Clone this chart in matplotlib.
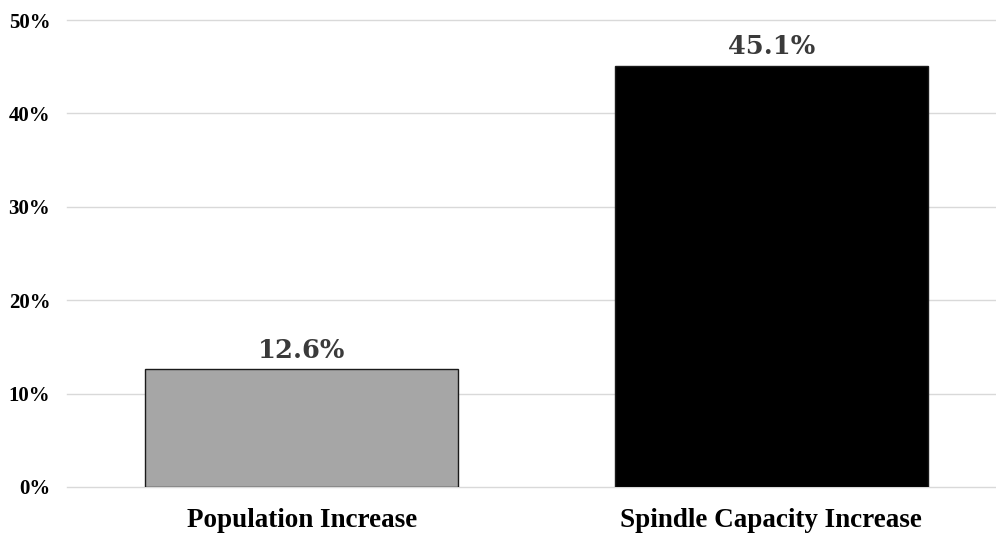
import matplotlib.pyplot as plt

# Data
categories = ["Population Increase", "Spindle Capacity Increase"]
values = [12.6, 45.1]
value_labels = ["12.6%", "45.1%"]
bar_colors = ["#A6A6A6", "#000000"]
yticks = [0, 10, 20, 30, 40, 50]
ytick_labels = ["0%", "10%", "20%", "30%", "40%", "50%"]

fig = plt.figure(figsize=(9.96, 5.36), dpi=100)
ax = fig.add_axes([67 / 996, 49 / 536, 939 / 996, 467 / 536])

x = range(len(categories))
ax.bar(x, values, width=0.667, color=bar_colors, edgecolor="#1a1a1a", linewidth=1, zorder=3)

for xi, v, lab in zip(x, values, value_labels):
    ax.text(xi, v + 0.7, lab, ha="center", va="bottom", fontsize=18.5,
            fontweight="bold", family="DejaVu Serif", color="#3a3a3a")

ax.set_xlim(-0.5, 1.5)
ax.set_ylim(0, 50)
ax.set_yticks(yticks)
ax.set_yticklabels(ytick_labels, fontsize=15, fontweight="bold", family="Liberation Serif")
ax.set_xticks(list(x))
ax.set_xticklabels(categories, fontsize=19.5, fontweight="bold", family="Liberation Serif")
ax.tick_params(axis="y", length=0, pad=12)
ax.tick_params(axis="x", length=0, pad=15)
ax.grid(axis="y", color="#D9D9D9", linewidth=1, zorder=0)
for gl in ax.get_ygridlines():
    gl.set_clip_on(False)
for s in ax.spines.values():
    s.set_visible(False)

fig.savefig("out.png", dpi=100)
